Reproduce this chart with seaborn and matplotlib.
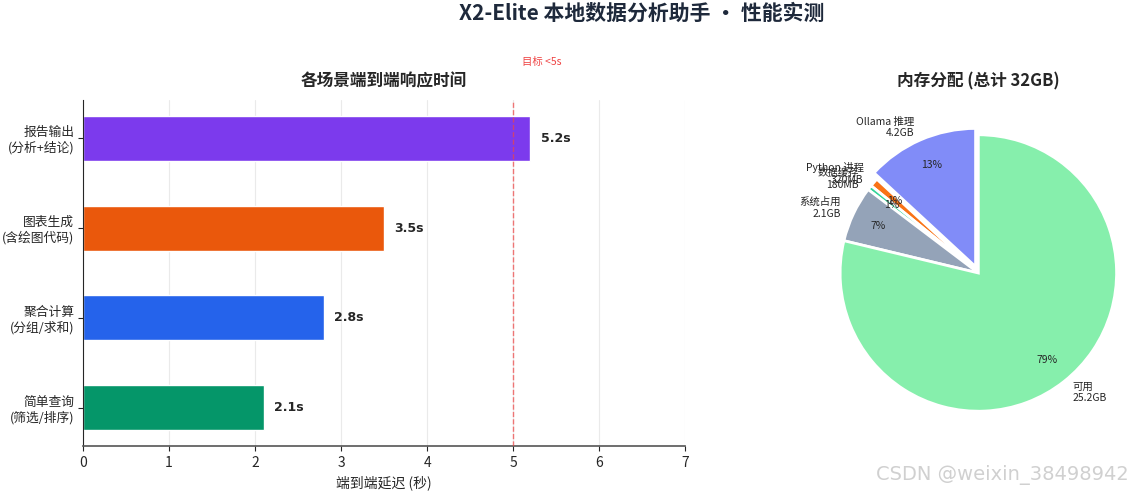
import matplotlib
matplotlib.use('Agg')
import matplotlib.pyplot as plt
import matplotlib.transforms as mtransforms
import seaborn as sns
import pandas as pd

# response time per scenario
scenarios = ['报告输出\n(分析+结论)', '图表生成\n(含绘图代码)', '聚合计算\n(分组/求和)', '简单查询\n(筛选/排序)']
latency = [5.2, 3.5, 2.8, 2.1]
bar_colors = ['#7c3aed', '#ea580c', '#2563eb', '#059669']
target = 5

# memory split (GB)
mem_labels = ['Ollama 推理', 'Python 进程', '数据缓存', '系统占用', '可用']
mem_text = ['4.2GB', '320MB', '180MB', '2.1GB', '25.2GB']
mem_gb = [4.2, 0.32, 0.18, 2.1, 25.2]
pie_colors = ['#818cf8', '#f97316', '#34d399', '#94a3b8', '#86efac']

sns.set_style('ticks')
plt.rcParams['font.family'] = ['Noto Sans CJK SC', 'DejaVu Sans']
plt.rcParams['axes.unicode_minus'] = False

df = pd.DataFrame({'scenario': scenarios, 'latency': latency})

fig = plt.figure(figsize=(11.33, 4.95), dpi=100)
ax1 = fig.add_axes([0.073, 0.099, 0.532, 0.699])
ax2 = fig.add_axes([0.711, 0.099, 0.305, 0.699])

sns.barplot(data=df, y='scenario', x='latency', hue='scenario', palette=bar_colors,
            order=scenarios, width=0.5, saturation=1, edgecolor='white', linewidth=1,
            legend=False, ax=ax1, zorder=2)
ax1.set_ylim(3.425, -0.425)
ax1.set_xlim(0, 7)
ax1.set_xticks(range(0, 8))
ax1.grid(axis='x', color='#dddddd', alpha=0.6, linewidth=0.8, zorder=0)
ax1.set_axisbelow(True)
ax1.axvline(target, color='#ef4444', linestyle='--', linewidth=1, alpha=0.7, zorder=3)
trans = mtransforms.blended_transform_factory(ax1.transData, ax1.transAxes)
ax1.text(target + 0.1, 1.11, '目标 <5s', transform=trans, color='#ef4444', fontsize=7.5,
         ha='left', va='center')
for i, v in enumerate(latency):
    ax1.text(v + 0.12, i, f'{v}s', va='center', ha='left', fontsize=9,
             fontweight='bold', family='DejaVu Sans')
ax1.set_title('各场景端到端响应时间', fontsize=12, fontweight='bold', pad=10)
ax1.set_xlabel('端到端延迟 (秒)', fontsize=10)
ax1.set_ylabel('')
ax1.tick_params(axis='x', labelsize=10)
ax1.tick_params(axis='y', labelsize=9.2, length=3.5, pad=2.5)
sns.despine(ax=ax1)
ax1.spines['bottom'].set_color('#555555')
ax1.spines['bottom'].set_linewidth(1.2)

pie_names = [f'{n}\n{t}' for n, t in zip(mem_labels, mem_text)]
wedges, texts, autotexts = ax2.pie(mem_gb, labels=pie_names, colors=pie_colors,
                                   autopct='%1.0f%%', startangle=90, pctdistance=0.8,
                                   explode=[0.05, 0, 0, 0, 0],
                                   wedgeprops={'edgecolor': 'white', 'linewidth': 2},
                                   textprops={'fontsize': 7.5})
for t in autotexts:
    t.set_fontsize(7.5)
ax2.set_title('内存分配 (总计 32GB)', fontsize=12, fontweight='bold', pad=10)

fig.suptitle('X2-Elite 本地数据分析助手 · 性能实测', fontsize=15, fontweight='bold',
             color='#1e293b', x=0.566, y=0.995)
fig.text(0.996, 0.04, 'CSDN @weixin_38498942', ha='right', va='center',
         fontsize=14, color='#d0d0d0', family='DejaVu Sans')

fig.savefig('out.png', dpi=100)
